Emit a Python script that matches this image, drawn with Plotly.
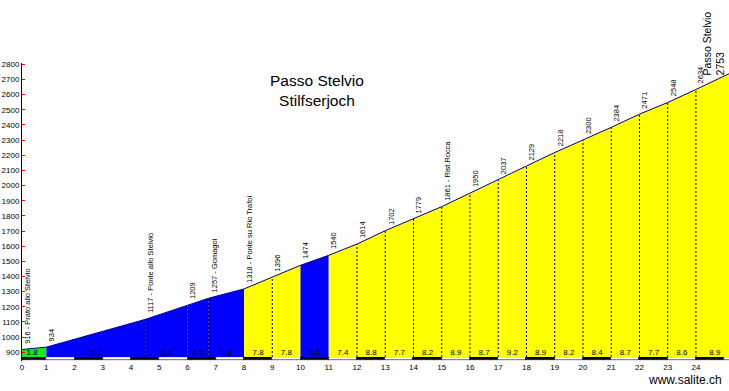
import plotly.graph_objects as go

# ---- data ----
KM = [0, 1, 4.5, 6, 6.75, 8, 9, 10, 11, 12, 13, 14, 15, 16, 17, 18, 19, 20, 21, 22, 23, 24, 25.34]
ELEV = [916, 934, 1117, 1209, 1257, 1318, 1396, 1474, 1540, 1614, 1702, 1779, 1861,
        1950, 2037, 2129, 2218, 2300, 2384, 2471, 2548, 2634, 2753]
GRADIENT = [1.8, 5.2, 6.1, 6.5, 4.8, 7.8, 7.8, 6.6, 7.4, 8.8, 7.7, 8.2, 8.9, 8.7,
            9.2, 8.9, 8.2, 8.4, 8.7, 7.7, 8.6, 8.9]
NAMES = ["Prato allo Stelvio", "", "Ponte allo Stelvio", "", "Gomagoi", "Ponte su Rio Trafoi",
         "", "", "", "", "", "", "Rist.Rocca", "", "", "", "", "", "", "", "", "", "Passo Stelvio"]
X_TICKS = list(range(0, 26))
Y_TICKS = list(range(900, 2801, 100))
TITLE_LINES = ["Passo Stelvio", "Stilfserjoch"]
CREDIT = "www.salite.ch"

# ---- styling ----
X_START, X_END = 0.14, 25.17
Y_MIN, Y_MAX = 842.6, 2808.6
BASE = 869          # bottom of the coloured profile
STRIP_BOTTOM = 846  # km strip under the profile
LABEL_Y = 898
FONT = "Liberation Sans, Arial, sans-serif"
GREEN, BLUE, YELLOW = "#11ee11", "#0000ff", "#ffff00"


def grad_color(g):
    if g < 3:
        return GREEN
    if g < 7:
        return BLUE
    return YELLOW


fig = go.Figure()

# km strip (alternating black / white)
fig.add_trace(go.Bar(
    x=[k + 0.5 for k in X_TICKS],
    y=[BASE - STRIP_BOTTOM] * len(X_TICKS),
    base=STRIP_BOTTOM, width=1,
    marker=dict(color=["black" if k % 2 == 0 else "white" for k in X_TICKS],
                line=dict(color="black", width=0.6)),
    hoverinfo="skip"))

# coloured segments
seg_colors = [grad_color(g) for g in GRADIENT]
for i, g in enumerate(GRADIENT):
    x0, x1 = KM[i], KM[i + 1]
    e0, e1 = ELEV[i], ELEV[i + 1]
    c = seg_colors[i]
    fig.add_trace(go.Scatter(x=[x0, x0, x1, x1, x0], y=[BASE, e0, e1, BASE, BASE],
                             fill="toself", fillcolor=c, mode="lines",
                             line=dict(width=0, color=c), hoverinfo="skip"))

# dotted verticals where colour does not change
for i in range(1, len(KM) - 1):
    if seg_colors[i - 1] == seg_colors[i]:
        fig.add_trace(go.Scatter(x=[KM[i], KM[i]], y=[BASE, ELEV[i]], mode="lines",
                                 line=dict(color="black", width=1, dash="2px,2px"),
                                 hoverinfo="skip"))

# profile line
fig.add_trace(go.Scatter(x=KM, y=ELEV, mode="lines",
                         line=dict(color="#000080", width=1), hoverinfo="skip"))

# gradient labels
fig.add_trace(go.Scatter(
    x=[(KM[i] + KM[i + 1]) / 2 for i in range(len(GRADIENT))],
    y=[LABEL_Y] * len(GRADIENT), mode="text",
    text=[f"{g:.1f}" for g in GRADIENT],
    textfont=dict(size=8, color="black", family=FONT), hoverinfo="skip"))

# point labels
annotations = []
for i in range(len(KM) - 1):
    txt = f"{ELEV[i]}" + (f" - {NAMES[i]}" if NAMES[i] else "")
    annotations.append(dict(x=max(KM[i], X_START), y=ELEV[i], xref="x", yref="y",
                            text=txt, textangle=-90, showarrow=False,
                            xanchor="left", yanchor="bottom", yshift=4, xshift=-1,
                            font=dict(size=7.5, color="black", family=FONT)))
annotations.append(dict(x=X_END, y=ELEV[-1], xref="x", yref="y",
                        text=f"{NAMES[-1]}<br>{ELEV[-1]}", textangle=-90, showarrow=False,
                        xanchor="right", yanchor="bottom", xshift=0, yshift=-6, align="left",
                        font=dict(size=10.5, color="black", family=FONT)))
annotations.append(dict(x=0.417, y=1.0, xref="paper", yref="paper", yshift=-7,
                        text="<br>".join(TITLE_LINES), showarrow=False,
                        xanchor="center", yanchor="top",
                        font=dict(size=15.5, color="black", family=FONT)))
annotations.append(dict(x=0.993, y=0, xref="paper", yref="paper", yshift=-10,
                        text=CREDIT, showarrow=False, xanchor="right", yanchor="top",
                        font=dict(size=12, color="black", family=FONT)))

fig.update_layout(
    width=729, height=391,
    margin=dict(l=22, r=0, t=63, b=30),
    paper_bgcolor="white", plot_bgcolor="white",
    showlegend=False, annotations=annotations, bargap=0,
    xaxis=dict(range=[X_START, X_END],
               tickvals=[max(k, X_START) for k in X_TICKS],
               ticktext=[str(k) for k in X_TICKS],
               showgrid=False, zeroline=False, showline=False, ticks="",
               tickfont=dict(size=8, color="black", family=FONT)),
    yaxis=dict(range=[Y_MIN, Y_MAX], tickvals=Y_TICKS,
               showgrid=False, zeroline=False, showline=True,
               linecolor="black", linewidth=1,
               ticks="inside", ticklen=3, tickcolor="red",
               tickfont=dict(size=8, color="black", family=FONT)),
)

fig.write_html("out.html", config={"displayModeBar": False},
               post_script="document.body.style.margin='0';document.body.style.overflow='hidden';")
